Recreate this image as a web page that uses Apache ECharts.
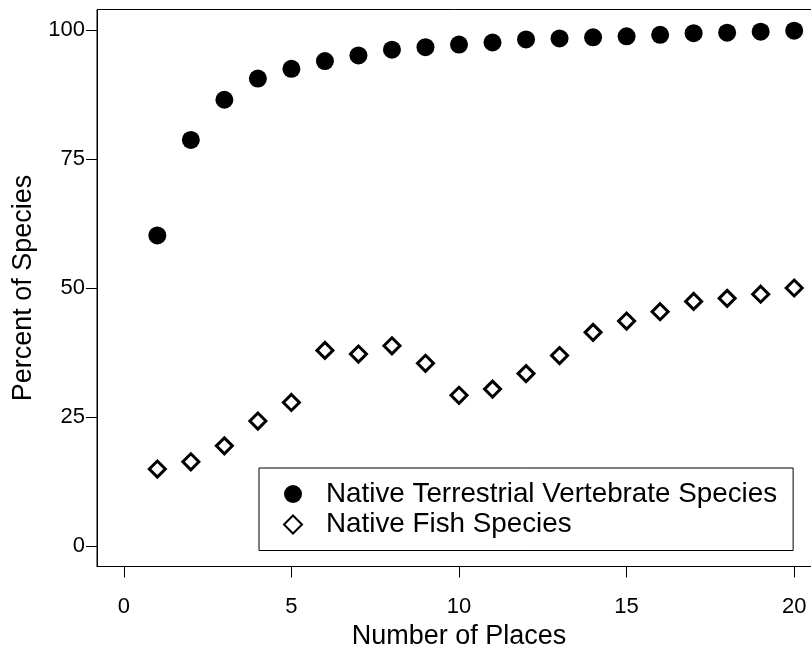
<!DOCTYPE html>
<html>
<head>
<meta charset="utf-8">
<title>Percent of Species by Number of Places</title>
<script src="https://cdn.jsdelivr.net/npm/echarts@6/dist/echarts.min.js"></script>
<style>
  html, body { margin: 0; padding: 0; background: #fff; }
  #chart { width: 811px; height: 649px; }
</style>
</head>
<body>
<div id="chart"></div>
<script>
// number of places (x)
const places = [1, 2, 3, 4, 5, 6, 7, 8, 9, 10, 11, 12, 13, 14, 15, 16, 17, 18, 19, 20]
// percent of species (y)
const terrestrial = [60.2, 78.7, 86.5, 90.6, 92.5, 94.0, 95.1, 96.2, 96.7, 97.2,
  97.6, 98.2, 98.4, 98.6, 98.8, 99.1, 99.4, 99.5, 99.7, 99.9]
const fish = [14.9, 16.3, 19.4, 24.2, 27.8, 37.9, 37.2, 38.8, 35.4, 29.2,
  30.4, 33.4, 36.9, 41.4, 43.6, 45.4, 47.4, 48.0, 48.8, 50.0]
const xTicks = [0, 5, 10, 15, 20]
const yTicks = [0, 25, 50, 75, 100]

const font = 'Liberation Sans, Arial, Helvetica, sans-serif'

const chart = echarts.init(document.getElementById('chart'), null, { renderer: 'canvas' })

chart.setOption({
  animation: false,
  backgroundColor: '#fff',
  textStyle: { fontFamily: font, color: '#000' },
  grid: {
    show: true,
    left: 97,
    top: 9.5,
    right: -10,
    bottom: 82.5,
    containLabel: false,
    outerBoundsMode: 'none',
    borderColor: '#000',
    borderWidth: 1,
    backgroundColor: 'transparent'
  },
  legend: {
    orient: 'vertical',
    left: 259,
    top: 468,
    padding: [11, 16, 11, 24],
    itemWidth: 18,
    itemHeight: 18,
    itemGap: 0.5,
    borderColor: '#000',
    borderWidth: 1,
    borderRadius: 0,
    backgroundColor: '#fff',
    textStyle: {
      fontFamily: font,
      fontSize: 27.8,
      lineHeight: 30,
      color: '#000',
      padding: [0, 0, 0, 19]
    },
    data: [
      { name: 'Native Terrestrial Vertebrate Species', icon: 'circle' },
      { name: 'Native Fish Species', icon: 'diamond' }
    ]
  },
  xAxis: {
    type: 'value',
    min: -0.8,
    max: 20.8,
    name: 'Number of Places',
    nameLocation: 'middle',
    nameGap: 57,
    nameTextStyle: { fontFamily: font, fontSize: 27, color: '#000' },
    axisLine: { show: true, onZero: false, lineStyle: { color: '#000', width: 1 } },
    splitLine: { show: false },
    axisTick: {
      show: true,
      inside: false,
      length: 11,
      customValues: xTicks,
      lineStyle: { color: '#000', width: 1 }
    },
    axisLabel: {
      customValues: xTicks,
      margin: 29,
      fontFamily: font,
      fontSize: 22,
      color: '#000'
    }
  },
  yAxis: {
    type: 'value',
    min: -4,
    max: 104,
    name: 'Percent of Species',
    nameLocation: 'middle',
    nameGap: 52.5,
    nameTextStyle: { fontFamily: font, fontSize: 27, color: '#000' },
    axisLine: { show: true, onZero: false, lineStyle: { color: '#000', width: 1 } },
    splitLine: { show: false },
    axisTick: {
      show: true,
      length: 11,
      customValues: yTicks,
      lineStyle: { color: '#000', width: 1 }
    },
    axisLabel: {
      customValues: yTicks,
      margin: 12,
      fontFamily: font,
      fontSize: 22,
      color: '#000'
    }
  },
  series: [
    {
      name: 'Native Terrestrial Vertebrate Species',
      type: 'scatter',
      symbol: 'circle',
      symbolSize: 18,
      itemStyle: { color: '#000', opacity: 1 },
      data: places.map((p, i) => [p, terrestrial[i]])
    },
    {
      name: 'Native Fish Species',
      type: 'scatter',
      symbol: 'diamond',
      symbolSize: 16,
      itemStyle: { color: '#fff', borderColor: '#000', borderWidth: 3, borderJoin: 'miter', opacity: 1 },
      data: places.map((p, i) => [p, fish[i]])
    }
  ]
})
</script>
</body>
</html>
